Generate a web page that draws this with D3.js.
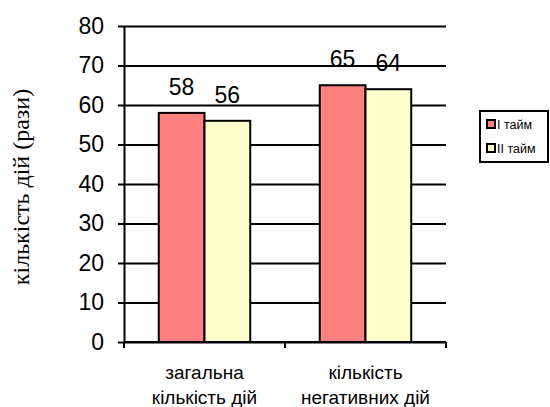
<!DOCTYPE html>
<html>
<head>
<meta charset="utf-8">
<script src="https://cdn.jsdelivr.net/npm/d3@7"></script>
<style>
  body { margin: 0; background: #fff; }
  svg { font-family: Arial, "Liberation Sans", sans-serif; }
  .yTitle { font-family: "Liberation Serif", "Times New Roman", serif; }
</style>
</head>
<body>
<div id="barChart"><svg></svg></div>
<script>
// data
var categories = [["загальна", "кількість дій"], ["кількість", "негативних дій"]];
var seriesNames = ["I тайм", "II тайм"];
var firstHalf = [58, 65];
var secondHalf = [56, 64];
var yTicks = [0, 10, 20, 30, 40, 50, 60, 70, 80];
var seriesColors = ["#ff8080", "#ffffcc"];

function createBarChart() {
  width = 550;
  height = 407;
  margin = { top: 26, right: 104, bottom: 65, left: 124 };

  var svg = d3.select("div#barChart").select("svg")
    .attr("width", width)
    .attr("height", height);

  var rows = categories.map(function (c, i) {
    return { key: i, label: c, values: [firstHalf[i], secondHalf[i]] };
  });

  y = d3.scaleLinear()
    .domain([0, 80])
    .range([height - margin.bottom, margin.top]);

  x = d3.scaleBand()
    .domain(rows.map(function (d) { return d.key; }))
    .range([margin.left, width - margin.right])
    .padding(0);

  var x1 = d3.scaleBand()
    .domain([0, 1])
    .range([0, x.bandwidth()])
    .paddingInner(0)
    .paddingOuter(0.76);

  // gridlines
  svg.append("g")
    .attr("class", "grid")
    .attr("transform", `translate(${margin.left},0)`)
    .call(d3.axisLeft(y).tickValues(yTicks).tickSize(-(width - margin.right - margin.left)).tickFormat(""))
    .call(function (g) {
      g.select(".domain").remove();
      g.selectAll("line").attr("stroke", "#000").attr("stroke-width", 2);
    });

  // bars
  svg.append("g")
    .attr("class", "bars")
    .selectAll("g")
    .data(rows)
    .join("g")
    .attr("transform", function (d) { return `translate(${x(d.key)},0)`; })
    .selectAll("rect")
    .data(function (d) { return d.values.map(function (v, j) { return { s: j, v: v }; }); })
    .join("rect")
    .attr("x", function (d) { return x1(d.s); })
    .attr("y", function (d) { return y(d.v); })
    .attr("width", x1.bandwidth())
    .attr("height", function (d) { return y(0) - y(d.v); })
    .attr("fill", function (d) { return seriesColors[d.s]; })
    .attr("stroke", "#000")
    .attr("stroke-width", 2);

  // value labels
  svg.append("g")
    .attr("class", "labels")
    .selectAll("g")
    .data(rows)
    .join("g")
    .attr("transform", function (d) { return `translate(${x(d.key)},0)`; })
    .selectAll("text")
    .data(function (d) { return d.values.map(function (v, j) { return { s: j, v: v }; }); })
    .join("text")
    .attr("x", function (d) { return x1(d.s) + x1.bandwidth() / 2; })
    .attr("y", function (d) { return y(d.v) - 18; })
    .attr("text-anchor", "middle")
    .attr("font-size", 23)
    .text(function (d) { return d.v; });

  // y axis
  svg.append("g")
    .attr("class", "yAxis")
    .attr("transform", `translate(${margin.left},0)`)
    .call(d3.axisLeft(y).tickValues(yTicks).tickSize(6).tickSizeOuter(0).tickPadding(14))
    .call(function (g) {
      g.select(".domain").attr("stroke-width", 2);
      g.selectAll("line").attr("stroke-width", 2);
      g.selectAll("text").attr("font-size", 23).attr("fill", "#000").attr("font-family", "Arial, 'Liberation Sans', sans-serif");
    });

  // x axis: ticks between categories
  var xEdges = [margin.left, x(1), width - margin.right];
  var xg = svg.append("g").attr("class", "xAxis");
  xg.append("line")
    .attr("x1", margin.left).attr("x2", width - margin.right)
    .attr("y1", y(0)).attr("y2", y(0))
    .attr("stroke", "#000").attr("stroke-width", 2);
  xg.selectAll(".tick")
    .data(xEdges)
    .join("line")
    .attr("x1", function (d) { return d; }).attr("x2", function (d) { return d; })
    .attr("y1", y(0)).attr("y2", y(0) + 6)
    .attr("stroke", "#000").attr("stroke-width", 2);
  xg.selectAll("text")
    .data(rows)
    .join("text")
    .attr("x", function (d) { return x(d.key) + x.bandwidth() / 2; })
    .attr("y", y(0) + 37)
    .attr("text-anchor", "middle")
    .attr("font-size", 19)
    .selectAll("tspan")
    .data(function (d) { return d.label; })
    .join("tspan")
    .attr("x", function () { return x(this.parentNode.__data__.key) + x.bandwidth() / 2; })
    .attr("dy", function (d, i) { return i ? 25 : 0; })
    .text(function (d) { return d; });

  // y axis title
  svg.append("text")
    .attr("class", "yTitle")
    .attr("transform", "translate(29,187) rotate(-90)")
    .attr("text-anchor", "middle")
    .style("font-family", "'Liberation Serif', 'Times New Roman', serif")
    .attr("font-size", 24)
    .text("кількість дій (рази)");

  // legend
  var lg = svg.append("g").attr("class", "legend");
  lg.append("rect")
    .attr("x", 480).attr("y", 111).attr("width", 68).attr("height", 51)
    .attr("fill", "#fff").attr("stroke", "#000").attr("stroke-width", 2);
  var items = lg.selectAll("g")
    .data(seriesNames)
    .join("g")
    .attr("transform", function (d, i) { return `translate(487,${124 + i * 24})`; });
  items.append("rect")
    .attr("x", 0).attr("y", -4).attr("width", 8).attr("height", 8)
    .attr("fill", function (d, i) { return seriesColors[i]; })
    .attr("stroke", "#000").attr("stroke-width", 2);
  items.append("text")
    .attr("x", 10).attr("y", 4.5)
    .attr("font-size", 12.5)
    .text(function (d) { return d; });
}

createBarChart();
</script>
</body>
</html>
